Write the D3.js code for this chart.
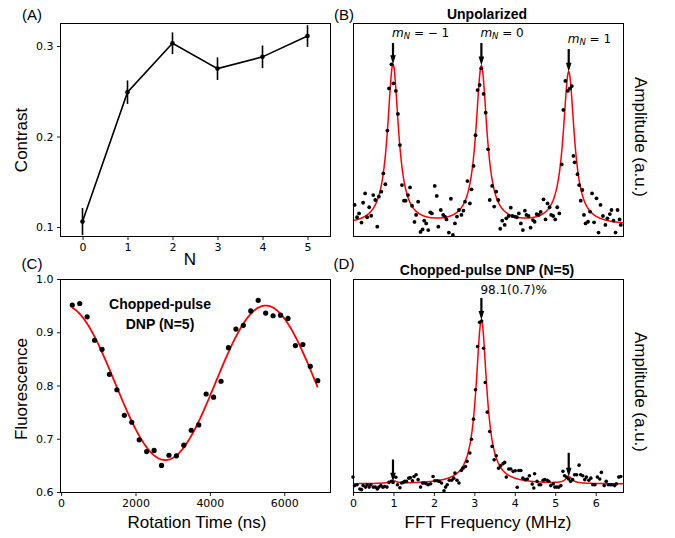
<!DOCTYPE html>
<html><head><meta charset="utf-8">
<script src="https://cdn.jsdelivr.net/npm/d3@7"></script>
<style>body{margin:0;background:#fff} svg{display:block}</style>
</head><body>
<svg id="c" width="675" height="538"></svg>
<script>
// ---------- Panel A data ----------
const nValues = [0, 1, 2, 3, 4, 5];
const contrast = [0.106, 0.249, 0.303, 0.275, 0.288, 0.311];
const contrastErr = [0.015, 0.013, 0.012, 0.0125, 0.0125, 0.012];
const aYTicks = [0.1, 0.2, 0.3];

// ---------- Panel C data ----------
const rotTime = [300,500,700,900,1100,1300,1500,1700,1900,2100,2300,2500,2700,2900,3100,3300,3500,3700,3900,4100,4300,4500,4700,4900,5100,5300,5500,5700,5900,6100,6300,6500,6700,6900];
const fluor = [0.951,0.954,0.929,0.885,0.868,0.821,0.792,0.744,0.731,0.698,0.676,0.678,0.650,0.669,0.668,0.688,0.716,0.726,0.784,0.778,0.808,0.871,0.906,0.913,0.940,0.960,0.936,0.931,0.932,0.926,0.875,0.877,0.836,0.809];
const rotFitParams = [0.805, 0.145, 5400, 5500]; // offset, amplitude, period (ns), time of max (ns)
const cXTicks = [0, 2000, 4000, 6000];
const cYTicks = [0.6, 0.7, 0.8, 0.9, 1.0];

// ---------- Panel B data ----------
const bFreq = [0.04,0.10,0.15,0.21,0.25,0.30,0.35,0.40,0.45,0.50,0.55,0.60,0.64,0.70,0.75,0.80,0.85,0.89,0.95,1.00,1.06,1.11,1.16,1.21,1.26,1.30,1.36,1.41,1.46,1.52,1.56,1.61,1.67,1.72,1.76,1.81,1.86,1.91,1.95,2.02,2.07,2.11,2.17,2.23,2.27,2.31,2.37,2.42,2.47,2.52,2.57,2.62,2.68,2.73,2.77,2.83,2.89,2.93,2.98,3.03,3.08,3.13,3.17,3.23,3.28,3.34,3.38,3.44,3.49,3.54,3.59,3.64,3.69,3.75,3.79,3.85,3.90,3.94,4.00,4.05,4.10,4.15,4.20,4.25,4.29,4.34,4.39,4.45,4.49,4.54,4.59,4.64,4.71,4.76,4.81,4.86,4.90,4.95,5.00,5.05,5.10,5.16,5.20,5.25,5.31,5.36,5.41,5.45,5.48,5.55,5.59,5.63,5.67,5.71,5.75,5.81,5.86,5.91,5.96,6.02,6.07,6.12,6.18,6.24,6.29,6.35,6.39,6.44,6.49,6.54,6.59,6.62];
const bAmp = [0.146,0.088,0.106,0.063,0.156,0.200,0.088,0.135,0.095,0.192,0.169,0.044,0.185,0.208,0.294,0.243,0.495,0.693,0.806,0.717,0.681,0.573,0.427,0.239,0.166,0.166,0.192,0.228,0.142,0.066,0.099,0.161,0.019,0.031,0.072,0.059,0.028,0.111,0.106,0.235,0.188,0.044,0.122,0.099,0.091,0.078,0.016,0.175,0.005,0.059,0.091,0.122,0.099,0.119,0.161,0.258,0.153,0.219,0.329,0.473,0.685,0.709,0.787,0.667,0.579,0.407,0.169,0.235,0.138,0.208,0.169,0.034,0.072,0.052,0.083,0.094,0.133,0.094,0.091,0.088,0.106,0.059,0.028,0.119,0.099,0.094,0.039,0.075,0.067,0.103,0.099,0.113,0.172,0.078,0.153,0.135,0.099,0.094,0.078,0.135,0.106,0.336,0.592,0.728,0.681,0.692,0.704,0.376,0.346,0.290,0.239,0.166,0.216,0.099,0.059,0.067,0.114,0.200,0.064,0.177,0.016,0.146,0.094,0.052,0.083,0.103,0.122,0.072,0.016,0.122,0.078,0.052];
const bFitCenters = [0.989, 3.174, 5.333];
const bFitHeights = [0.752, 0.742, 0.717];
const bFitGammas = [0.165, 0.165, 0.165];
const bFitOffset = [0.049];
const bArrowTail = [0.906, 0.906, 0.878];
const bArrowTip = [0.806, 0.800, 0.771];
const bLabelValues = ["\u2212 1", "0", "1"];

// ---------- Panel D data ----------
const dFreq = [0.00,0.04,0.10,0.17,0.21,0.25,0.31,0.35,0.40,0.44,0.50,0.55,0.60,0.64,0.69,0.74,0.78,0.84,0.89,0.95,0.99,1.06,1.10,1.16,1.20,1.24,1.28,1.32,1.38,1.42,1.47,1.51,1.56,1.61,1.67,1.72,1.76,1.81,1.86,1.92,1.98,2.02,2.08,2.13,2.19,2.25,2.29,2.33,2.38,2.44,2.49,2.52,2.57,2.62,2.68,2.72,2.78,2.82,2.89,2.93,2.98,3.03,3.08,3.13,3.18,3.23,3.27,3.32,3.38,3.44,3.49,3.54,3.60,3.65,3.71,3.75,3.79,3.85,3.90,3.96,4.01,4.06,4.10,4.15,4.20,4.26,4.31,4.36,4.43,4.47,4.49,4.55,4.60,4.64,4.70,4.74,4.80,4.84,4.89,4.95,4.99,5.04,5.09,5.14,5.19,5.23,5.28,5.33,5.38,5.43,5.48,5.53,5.59,5.63,5.68,5.73,5.77,5.83,5.88,5.93,5.98,6.04,6.10,6.14,6.21,6.26,6.31,6.36,6.41,6.47,6.51,6.57,6.62];
const dAmp = [0.070,0.030,0.034,0.014,0.011,0.030,0.023,0.034,0.023,0.034,0.023,0.023,0.014,0.023,0.030,0.022,0.026,0.023,0.045,0.050,0.045,0.069,0.034,0.020,0.042,0.045,0.050,0.050,0.065,0.067,0.053,0.073,0.081,0.058,0.023,0.042,0.042,0.039,0.034,0.039,0.073,0.053,0.053,0.050,0.042,0.006,0.023,0.034,0.055,0.055,0.065,0.089,0.055,0.042,0.101,0.112,0.120,0.144,0.183,0.248,0.342,0.480,0.683,0.797,0.803,0.675,0.514,0.375,0.284,0.214,0.151,0.170,0.112,0.123,0.133,0.139,0.070,0.108,0.108,0.097,0.100,0.022,0.101,0.101,0.065,0.058,0.061,0.076,0.037,0.019,0.086,0.050,0.034,0.034,0.055,0.058,0.055,0.050,0.030,0.039,0.023,0.023,0.023,0.030,0.097,0.076,0.070,0.061,0.050,0.058,0.081,0.081,0.126,0.081,0.076,0.058,0.070,0.055,0.065,0.034,0.034,0.070,0.061,0.092,0.030,0.050,0.034,0.034,0.034,0.030,0.039,0.070,0.073];
const dFitCenters = [0.989, 3.174, 5.333];
const dFitHeights = [0.012, 0.770, 0.031];
const dFitGammas = [0.10, 0.16, 0.10];
const dFitOffset = [0.037];
const dArrowTail = [0.152, 0.911, 0.184];
const dArrowTip = [0.048, 0.808, 0.072];
const dXTicks = [0, 1, 2, 3, 4, 5, 6];

// ---------- drawing ----------
const svg = d3.select('#c');
const TICKFONT = '"DejaVu Sans", sans-serif';
const LABFONT = '"Liberation Sans", Arial, Helvetica, sans-serif';
const RED = '#ff0000';

function frame(x0, y0, x1, y1) {
  svg.append('rect').attr('x', x0 + 0.5).attr('y', y0 + 0.5)
    .attr('width', x1 - x0).attr('height', y1 - y0)
    .attr('fill', 'none').attr('stroke', '#000').attr('stroke-width', 1);
}
function styleAxis(g) {
  g.select('.domain').remove();
  g.selectAll('line').attr('stroke', '#000').attr('stroke-width', 0.9);
  g.selectAll('text').attr('font-family', TICKFONT).attr('font-size', 11).attr('fill', '#000');
}
function label(x, y, txt, opts = {}) {
  const t = svg.append('text').attr('x', x).attr('y', y).text(txt)
    .attr('font-family', opts.font || LABFONT)
    .attr('font-size', opts.size || 17)
    .attr('font-weight', opts.weight || 'normal')
    .attr('text-anchor', opts.anchor || 'middle')
    .attr('dominant-baseline', 'central')
    .attr('fill', '#000');
  if (opts.rot) t.attr('transform', `rotate(${opts.rot},${x},${y})`);
  return t;
}
function arrow(x, yTail, yTip) {
  const hw = 1.1, hh = 2.8, hl = 9;
  const yb = yTip - hl;
  const p = `M${x - hw},${yTail} L${x + hw},${yTail} L${x + hw},${yb} L${x + hh},${yb} L${x},${yTip} L${x - hh},${yb} L${x - hw},${yb} Z`;
  svg.append('path').attr('d', p).attr('fill', '#000');
}
function lorentz(f, centers, heights, gammas, offset) {
  let s = offset[0];
  for (let i = 0; i < centers.length; i++) {
    const g2 = gammas[i] * gammas[i];
    const d = f - centers[i];
    s += heights[i] * g2 / (d * d + g2);
  }
  return s;
}

// ===== Panel A =====
{
  const x = d3.scaleLinear([-0.5, 5.5], [60, 330]);
  const y = d3.scaleLinear([0.0901, 0.3254], [236, 23]);
  const gx = svg.append('g').attr('transform', 'translate(0,236.5)')
    .call(d3.axisBottom(x).tickValues(nValues).tickSize(3.5).tickPadding(3.5).tickFormat(d3.format('d')));
  styleAxis(gx);
  const gy = svg.append('g').attr('transform', 'translate(60.5,0)')
    .call(d3.axisLeft(y).tickValues(aYTicks).tickSize(3.5).tickPadding(3.5).tickFormat(d3.format('.1f')));
  styleAxis(gy);
  frame(60, 23, 330, 236);
  const pts = nValues.map((n, i) => [n, contrast[i], contrastErr[i]]);
  svg.append('path').datum(pts)
    .attr('d', d3.line().x(d => x(d[0])).y(d => y(d[1])))
    .attr('fill', 'none').attr('stroke', '#000').attr('stroke-width', 1.6);
  svg.selectAll('.ebA').data(pts).join('line')
    .attr('x1', d => x(d[0])).attr('x2', d => x(d[0]))
    .attr('y1', d => y(d[1] - d[2])).attr('y2', d => y(d[1] + d[2]))
    .attr('stroke', '#000').attr('stroke-width', 1.6);
  svg.selectAll('.dotA').data(pts).join('circle')
    .attr('cx', d => x(d[0])).attr('cy', d => y(d[1])).attr('r', 2.3).attr('fill', '#000');
  label(21, 140, 'Contrast', { rot: -90 });
  label(190, 259, 'N');
  label(32, 14, '(A)', { size: 15 });
}

// ===== Panel B =====
{
  const x = d3.scaleLinear([0, 6.675], [353, 623]);
  const y = d3.scaleLinear([0, 1], [236, 23]);
  const fine = d3.range(0, 6.676, 0.005);
  svg.append('path').datum(fine)
    .attr('d', d3.line().x(f => x(f)).y(f => y(lorentz(f, bFitCenters, bFitHeights, bFitGammas, bFitOffset))))
    .attr('fill', 'none').attr('stroke', RED).attr('stroke-width', 1.5);
  svg.selectAll('.dotB').data(bFreq.map((f, i) => [f, bAmp[i]])).join('circle')
    .attr('cx', d => x(d[0])).attr('cy', d => y(d[1])).attr('r', 1.9).attr('fill', '#000');
  frame(353, 23, 623, 236);
  bFitCenters.forEach((c, i) => {
    arrow(x(c), y(bArrowTail[i]), y(bArrowTip[i]));
    const t = svg.append('text').attr('x', x(c) - 1).attr('y', y(bArrowTail[i]) - 10)
      .attr('font-family', TICKFONT).attr('font-size', 12).attr('dominant-baseline', 'central').attr('fill', '#000');
    t.append('tspan').attr('font-style', 'italic').text('m');
    t.append('tspan').attr('font-style', 'italic').attr('font-size', 8.5).attr('dy', 3).text('N');
    t.append('tspan').attr('dy', -3).text(' = ' + bLabelValues[i]);
  });
  label(487, 14, 'Unpolarized', { size: 14, weight: 'bold' });
  label(640, 137, 'Amplitude (a.u.)', { rot: 90 });
  label(344, 14, '(B)', { size: 15 });
}

// ===== Panel C =====
{
  const x = d3.scaleLinear([-30, 7230], [60, 330]);
  const y = d3.scaleLinear([0.6, 1.0], [492, 279]);
  const gx = svg.append('g').attr('transform', 'translate(0,492.5)')
    .call(d3.axisBottom(x).tickValues(cXTicks).tickSize(3.5).tickPadding(3.5).tickFormat(d3.format('d')));
  styleAxis(gx);
  const gy = svg.append('g').attr('transform', 'translate(60.5,0)')
    .call(d3.axisLeft(y).tickValues(cYTicks).tickSize(3.5).tickPadding(3.5).tickFormat(d3.format('.1f')));
  styleAxis(gy);
  const [off, amp, per, tmax] = rotFitParams;
  const fine = d3.range(rotTime[0], rotTime[rotTime.length - 1] + 1, 20);
  svg.append('path').datum(fine)
    .attr('d', d3.line().x(t => x(t)).y(t => y(off + amp * Math.cos(2 * Math.PI * (t - tmax) / per))))
    .attr('fill', 'none').attr('stroke', RED).attr('stroke-width', 1.8);
  svg.selectAll('.dotC').data(rotTime.map((t, i) => [t, fluor[i]])).join('circle')
    .attr('cx', d => x(d[0])).attr('cy', d => y(d[1])).attr('r', 2.6).attr('fill', '#000');
  frame(60, 279, 330, 492);
  label(160, 304, 'Chopped-pulse', { size: 14, weight: 'bold' });
  label(160, 324, 'DNP (N=5)', { size: 14, weight: 'bold' });
  label(21, 389, 'Fluorescence', { rot: -90 });
  label(197, 522, 'Rotation Time (ns)');
  label(32, 263, '(C)', { size: 15 });
}

// ===== Panel D =====
{
  const x = d3.scaleLinear([0, 6.675], [353, 623]);
  const y = d3.scaleLinear([0, 1], [492, 279]);
  const gx = svg.append('g').attr('transform', 'translate(0,492.5)')
    .call(d3.axisBottom(x).tickValues(dXTicks).tickSize(3.5).tickPadding(3.5).tickFormat(d3.format('d')));
  styleAxis(gx);
  const fine = d3.range(0, 6.676, 0.005);
  svg.append('path').datum(fine)
    .attr('d', d3.line().x(f => x(f)).y(f => y(lorentz(f, dFitCenters, dFitHeights, dFitGammas, dFitOffset))))
    .attr('fill', 'none').attr('stroke', RED).attr('stroke-width', 1.5);
  svg.selectAll('.dotD').data(dFreq.map((f, i) => [f, dAmp[i]])).join('circle')
    .attr('cx', d => x(d[0])).attr('cy', d => y(d[1])).attr('r', 1.8).attr('fill', '#000');
  frame(353, 279, 623, 492);
  dFitCenters.forEach((c, i) => arrow(x(c), y(dArrowTail[i]), y(dArrowTip[i])));
  svg.append('text').attr('x', x(dFitCenters[1]) - 1).attr('y', 290)
    .attr('font-family', TICKFONT).attr('font-size', 12).attr('dominant-baseline', 'central')
    .attr('fill', '#000').text('98.1(0.7)%');
  label(487, 270, 'Chopped-pulse DNP (N=5)', { size: 14, weight: 'bold' });
  label(488, 522, 'FFT Frequency (MHz)');
  label(640, 392, 'Amplitude (a.u.)', { rot: 90 });
  label(344, 263, '(D)', { size: 15 });
}
</script>
</body></html>
